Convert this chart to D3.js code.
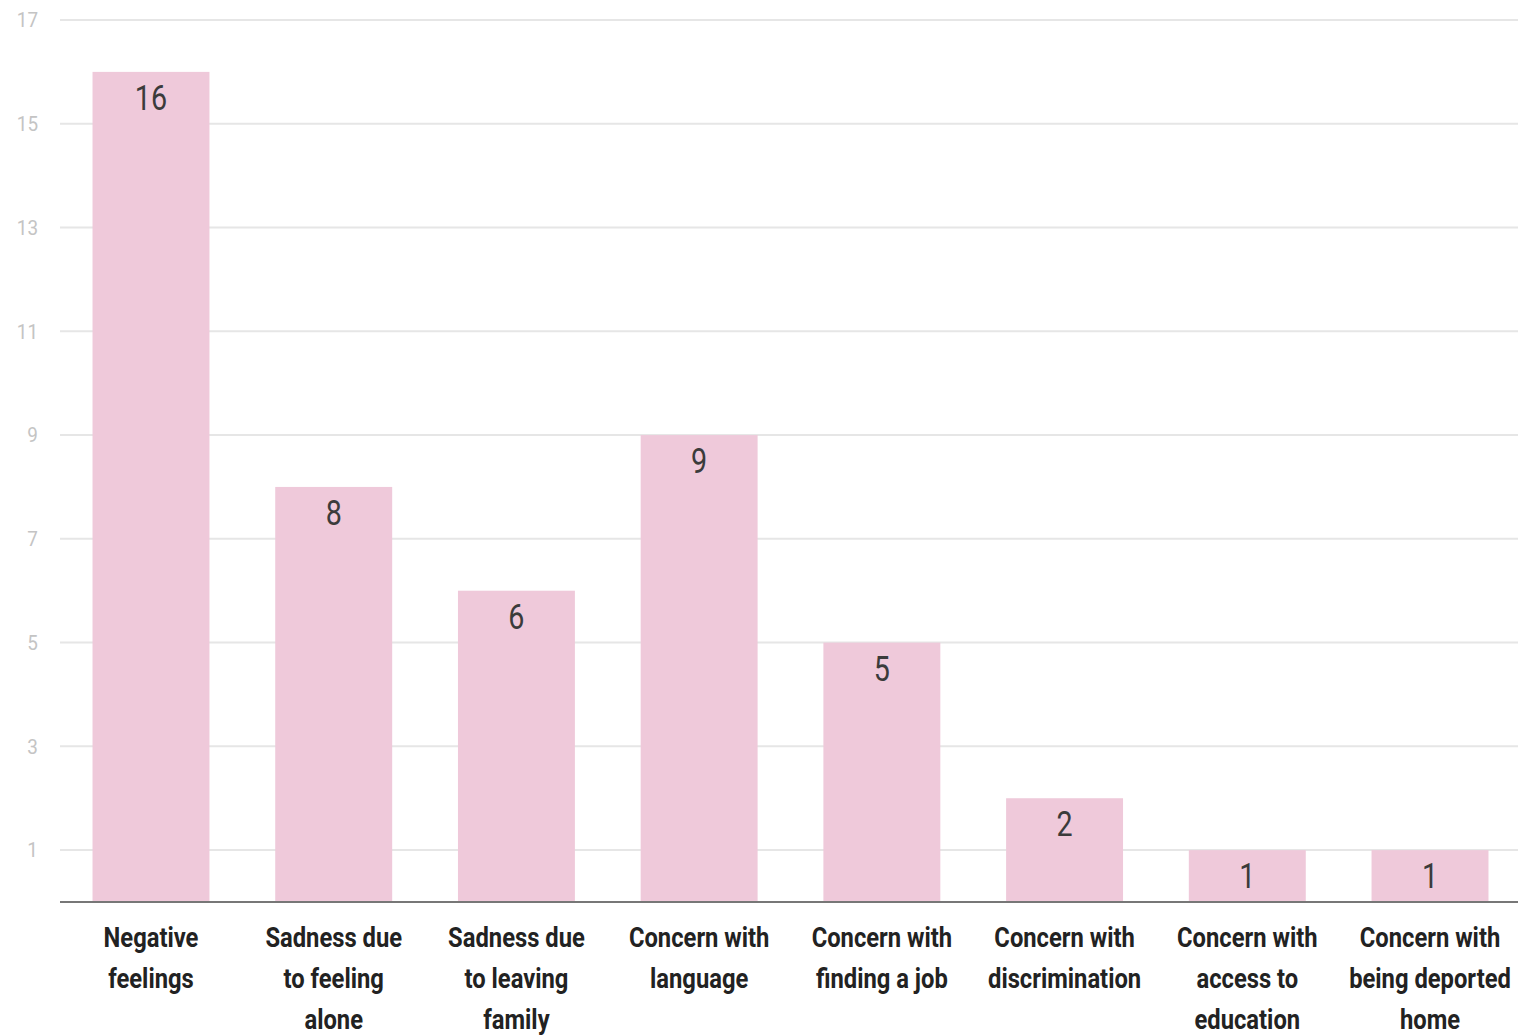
<!DOCTYPE html>
<html><head><meta charset="utf-8">
<script src="https://cdn.jsdelivr.net/npm/d3@7"></script>
<style>
html,body{margin:0;padding:0;background:#fff;}
svg{display:block;}
</style></head>
<body>
<svg id="chart" width="1518" height="1036"></svg>
<script>
const categories = [
  ["Negative","feelings"],
  ["Sadness due","to feeling","alone"],
  ["Sadness due","to leaving","family"],
  ["Concern with","language"],
  ["Concern with","finding a job"],
  ["Concern with","discrimination"],
  ["Concern with","access to","education"],
  ["Concern with","being deported","home"]
];
const values = [16, 8, 6, 9, 5, 2, 1, 1];
const yTicks = [1, 3, 5, 7, 9, 11, 13, 15, 17];

const svg = d3.select("#chart");
const mLeft = 60, mRight = 1518, mTop = 20, mBottom = 902;

const x = d3.scaleBand().domain(d3.range(values.length)).range([mLeft, 1521]).paddingInner(0.36).paddingOuter(0.178);
const y = d3.scaleLinear().domain([0, 17]).range([mBottom, mTop]);

// gridlines
svg.append("g").selectAll("line").data(yTicks).join("line")
  .attr("x1", mLeft).attr("x2", mRight)
  .attr("y1", d => y(d)).attr("y2", d => y(d))
  .attr("stroke", "#e6e6e6").attr("stroke-width", 2);

// y tick labels
svg.append("g").selectAll("text").data(yTicks).join("text")
  .attr("transform", d => `translate(38,${y(d)}) scale(0.9,1)`)
  .attr("dy", "0.35em")
  .attr("text-anchor", "end")
  .attr("font-family", "Roboto, sans-serif").attr("font-size", 21)
  .attr("fill", "#c4c4c4")
  .text(d => d);

// bars
svg.append("g").selectAll("rect").data(values).join("rect")
  .attr("x", (d, i) => x(i)).attr("width", x.bandwidth())
  .attr("y", d => y(d)).attr("height", d => y(0) - y(d))
  .attr("fill", "#efc9da");

// value labels
svg.append("g").selectAll("text").data(values).join("text")
  .attr("transform", (d, i) => `translate(${x(i) + x.bandwidth() / 2},${y(d) + 38}) scale(0.82,1)`)
  .attr("text-anchor", "middle")
  .attr("font-family", "Roboto, sans-serif").attr("font-size", 35)
  .attr("fill", "#3b3b3b")
  .text(d => d);

// baseline
svg.append("line").attr("x1", mLeft).attr("x2", mRight)
  .attr("y1", y(0)).attr("y2", y(0))
  .attr("stroke", "#777").attr("stroke-width", 2);

// category labels
const cat = svg.append("g").selectAll("text").data(categories).join("text")
  .attr("transform", (d, i) => `translate(${x(i) + x.bandwidth() / 2},947) scale(0.88,1)`)
  .attr("text-anchor", "middle")
  .attr("font-family", "Roboto, sans-serif").attr("font-size", 27).attr("font-weight", "bold")
  .attr("fill", "#222");
cat.selectAll("tspan").data(d => d).join("tspan")
  .attr("x", 0).attr("y", (d, j) => j * 41)
  .text(d => d);
</script>
</body></html>
